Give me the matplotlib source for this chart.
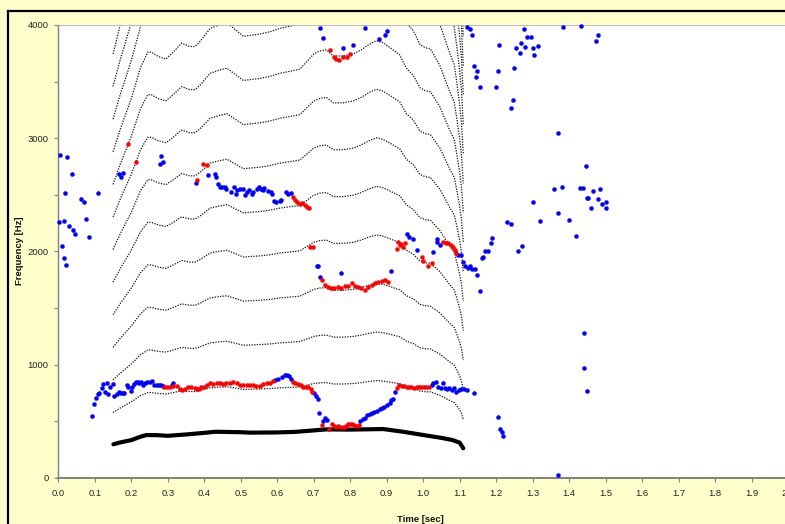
import matplotlib
matplotlib.use("Agg")
import matplotlib.pyplot as plt
from matplotlib.lines import Line2D
import numpy as np

# ---------------- data ----------------
# smoothed pitch contour used for the harmonic (dotted) curves, Hz
HARM_T = [0.150, 0.170, 0.200, 0.225, 0.245, 0.255, 0.275, 0.295, 0.315, 0.338,
          0.360, 0.375, 0.390, 0.416, 0.440, 0.462, 0.485, 0.507, 0.530, 0.553,
          0.580, 0.607, 0.635, 0.662, 0.685, 0.700, 0.717, 0.735, 0.754, 0.780,
          0.808, 0.830, 0.850, 0.872, 0.890, 0.910, 0.936, 0.954, 0.973, 0.991,
          1.005, 1.020, 1.046, 1.060, 1.073, 1.085, 1.092, 1.100, 1.105, 1.110]
HARM_F0 = [288, 308, 335, 362, 376, 376, 372, 370, 376, 384,
           381, 381, 386, 397, 400, 402, 396, 390, 391, 392,
           394, 397, 399, 401, 410, 416, 419, 420, 414, 414,
           416, 420, 425, 429, 427, 422, 415, 402, 395, 383,
           380, 379, 364, 352, 341, 332, 318, 300, 285, 260]
HARMONICS = [2, 3, 4, 5, 6, 7, 8, 9, 10, 11, 12, 13, 14, 15]

# measured F0 (thick black line)
F0_T = [0.151, 0.170, 0.200, 0.225, 0.242, 0.270, 0.300, 0.350, 0.406, 0.430,
        0.500, 0.525, 0.600, 0.650, 0.689, 0.735, 0.800, 0.890, 0.945, 1.018,
        1.050, 1.080, 1.100, 1.110]
F0_HZ = [295, 312, 332, 362, 377, 376, 370, 382, 398, 406,
         402, 398, 400, 405, 415, 427, 425, 430, 406, 368,
         352, 333, 310, 260]

BLUE_T = [0.005, 0.023, 0.038, 0.018, 0.062, 0.108, 0.003, 0.015, 0.030, 0.040,
          0.045, 0.011, 0.016, 0.020, 0.070, 0.075, 0.085,
          0.0915, 0.099, 0.103, 0.110, 0.112, 0.119, 0.122, 0.128, 0.133, 0.137,
          0.143, 0.149, 0.153, 0.160, 0.167, 0.171, 0.176, 0.181, 0.187, 0.192,
          0.198, 0.203, 0.208, 0.213, 0.218, 0.222, 0.228, 0.233, 0.239, 0.244,
          0.251, 0.257, 0.263, 0.270, 0.277, 0.282, 0.288, 0.311, 0.315,
          0.593, 0.603, 0.612, 0.621, 0.628, 0.633, 0.639,
          0.701, 0.706, 0.711, 0.715, 0.726, 0.732, 0.737,
          0.827, 0.834, 0.841, 0.847, 0.853, 0.859, 0.866, 0.873, 0.881, 0.887,
          0.893, 0.901, 0.908, 0.911, 0.916, 0.924,
          1.023, 1.027, 1.035, 1.041, 1.048, 1.055, 1.060, 1.066, 1.072, 1.078,
          1.085, 1.091, 1.097, 1.104, 1.111, 1.120, 1.140,
          1.205, 1.210, 1.215, 1.219,
          0.167, 0.172, 0.178, 0.281, 0.279, 0.288, 0.377,
          0.411, 0.430, 0.433, 0.438, 0.443, 0.450, 0.457, 0.460, 0.472, 0.482,
          0.487, 0.491, 0.498, 0.505, 0.511, 0.518, 0.524, 0.530, 0.534, 0.544,
          0.549, 0.555, 0.560, 0.564, 0.575, 0.582, 0.587, 0.592, 0.598, 0.607,
          0.611, 0.624, 0.630, 0.637,
          0.708, 0.712, 0.717, 0.776, 0.913,
          0.955, 0.962, 0.973, 0.984, 1.027, 1.037, 1.039, 1.046,
          1.096, 1.105, 1.110, 1.115, 1.123, 1.129, 1.135, 1.141, 1.148, 1.155,
          1.160, 1.165, 1.169, 1.178, 1.185, 1.190,
          0.718, 0.726, 0.781, 0.808, 0.840, 0.880, 0.896, 0.900,
          1.119, 1.128, 1.135, 1.139, 1.148, 1.145, 1.155, 1.208, 1.205, 1.199,
          1.248, 1.245, 1.240, 1.255, 1.265, 1.269, 1.276, 1.279, 1.285, 1.295,
          1.300, 1.305, 1.315, 1.369, 1.384, 1.434, 1.475, 1.480,
          1.445, 1.438, 1.465, 1.485, 1.449, 1.452, 1.478, 1.490, 1.500, 1.500,
          1.460, 1.230, 1.240, 1.260, 1.270, 1.300, 1.320, 1.360, 1.380, 1.400,
          1.420, 1.430, 1.370, 1.440, 1.440, 1.450, 1.370]
BLUE_F = [2850, 2831, 2686, 2518, 2465, 2518, 2260, 2265, 2225, 2190,
          2150, 2050, 1940, 1880, 2440, 2290, 2130,
          545, 651, 701, 737, 745, 790, 825, 760, 839, 739,
          804, 828, 722, 737, 754, 745, 751, 745, 819, 804,
          769, 799, 825, 843, 848, 840, 843, 819, 834, 845,
          848, 851, 822, 822, 822, 822, 808, 816, 834,
          863, 875, 887, 907, 907, 898, 869,
          745, 722, 695, 575, 501, 525, 510,
          501, 522, 531, 554, 563, 575, 584, 590, 604, 613,
          628, 643, 657, 686, 692, 754,
          819, 834, 848, 798, 790, 834, 790, 781, 790, 775,
          790, 760, 775, 781, 781, 775, 745,
          534, 427, 407, 368,
          2680, 2654, 2689, 2845, 2771, 2792, 2601,
          2674, 2680, 2654, 2595, 2566, 2572, 2572, 2548, 2527, 2572,
          2507, 2539, 2548, 2554, 2498, 2527, 2539, 2510, 2527, 2554,
          2572, 2554, 2539, 2563, 2531, 2527, 2510, 2445, 2440, 2445,
          2453, 2527, 2510, 2516,
          1870, 1870, 1776, 1806, 1829,
          2153, 2124, 2106, 2012, 1997, 2085, 2106, 2056,
          1968, 1968, 1909, 1870, 1856, 1870, 1841, 1841, 1791, 1650,
          1938, 1947, 2006, 2000, 2077, 2115,
          3970, 3882, 3800, 3820, 3970, 3880, 3910, 3945,
          3985, 3961, 3908, 3637, 3596, 3537, 3449, 3823, 3596, 3449,
          3622, 3337, 3269, 3796, 3755, 3838, 3964, 3802, 3896, 3896,
          3799, 3735, 3817, 3043, 3985, 3991, 3858, 3908,
          2754, 2562, 2533, 2548, 2468, 2474, 2460, 2420, 2440, 2380,
          2380, 2260, 2240, 2000, 2050, 2440, 2270, 2550, 2570, 2280,
          2140, 2560, 25, 1280, 970, 770, 2340]

RED_T = [0.291, 0.298, 0.305, 0.315, 0.326, 0.333, 0.340, 0.347, 0.356, 0.365,
         0.374, 0.380, 0.386, 0.392, 0.399, 0.408, 0.417, 0.425, 0.434, 0.443,
         0.452, 0.461, 0.470, 0.479, 0.489, 0.498, 0.507, 0.516, 0.525, 0.534,
         0.543, 0.553, 0.562, 0.571, 0.580, 0.589,
         0.644, 0.650, 0.657, 0.664, 0.671, 0.679, 0.685, 0.692, 0.695,
         0.722, 0.742, 0.749, 0.755, 0.761, 0.767, 0.774, 0.782, 0.788, 0.793,
         0.799, 0.805, 0.811, 0.818, 0.823,
         0.929, 0.934, 0.941, 0.947, 0.955, 0.962, 0.968, 0.974, 0.982, 0.989,
         0.995, 1.002, 1.009, 1.017,
         0.192, 0.212, 0.381, 0.397, 0.407,
         0.642, 0.649, 0.655, 0.662, 0.668, 0.676, 0.682, 0.688,
         0.691, 0.699,
         0.722, 0.730, 0.739, 0.748, 0.757, 0.767, 0.776, 0.785, 0.794, 0.804,
         0.813, 0.822, 0.831, 0.840, 0.850, 0.859, 0.868, 0.877, 0.886, 0.895,
         0.905,
         0.927, 0.932, 0.936, 0.940, 0.945, 0.951,
         0.996, 1.000, 1.013, 1.025,
         1.055, 1.062, 1.068, 1.075, 1.082, 1.087, 1.091,
         0.745, 0.755, 0.760, 0.770, 0.780, 0.790, 0.800]
RED_F = [798, 798, 805, 808, 810, 781, 775, 787, 798, 798,
         790, 781, 787, 798, 804, 822, 834, 828, 834, 834,
         831, 834, 837, 843, 834, 822, 819, 816, 816, 816,
         813, 813, 825, 834, 840, 857,
         848, 834, 825, 816, 804, 798, 798, 781, 760,
         466, 427, 472, 460, 448, 460, 448, 448, 460, 472,
         475, 472, 463, 454, 469,
         790, 819, 810, 810, 804, 804, 798, 795, 798, 798,
         804, 804, 804, 804,
         2948, 2792, 2630, 2771, 2763,
         2483, 2453, 2440, 2418, 2424, 2410, 2389, 2380,
         2036, 2042,
         1747, 1702, 1688, 1680, 1680, 1688, 1680, 1694, 1691, 1723,
         1694, 1688, 1673, 1661, 1688, 1702, 1717, 1732, 1740, 1746,
         1732,
         2018, 2085, 2056, 2065, 2042, 2077,
         1947, 1915, 1871, 1900,
         2085, 2077, 2071, 2056, 2042, 2012, 1983,
         3776, 3714, 3700, 3690, 3720, 3720, 3740]

X_TICKS = [round(0.1 * i, 1) for i in range(21)]
X_LABELS = ["%.1f" % v for v in X_TICKS]
Y_MAJOR = [0, 1000, 2000, 3000, 4000]
Y_MINOR = [500, 1500, 2500, 3500]

# ---------------- figure ----------------
plt.rcParams['font.family'] = ['Liberation Sans', 'DejaVu Sans']
BG = '#FFFFCC'
fig = plt.figure(figsize=(7.85, 5.24), dpi=100, facecolor=BG)

# outer chart border (top and left visible)
fig.add_artist(Line2D([8 / 785, 8 / 785], [0, 1 - 11 / 524], transform=fig.transFigure,
                      color='black', lw=1.6))
fig.add_artist(Line2D([8 / 785, 1], [1 - 11 / 524, 1 - 11 / 524], transform=fig.transFigure,
                      color='black', lw=1.6))

ax = fig.add_axes([58.3 / 785, 1 - 477.7 / 524, (788 - 58.3) / 785, (477.7 - 25) / 524])
ax.set_facecolor('white')
ax.set_xlim(0, 2.0)
ax.set_ylim(0, 4000)

ht = np.array(HARM_T)
hf = np.array(HARM_F0)
for k in HARMONICS:
    ax.plot(ht, k * hf, color='#111111', lw=0.9, ls=(0, (1, 1.1)), zorder=2)

ax.plot(F0_T, F0_HZ, color='black', lw=3.0, solid_capstyle='round', zorder=3)

ax.plot(BLUE_T, BLUE_F, ls='none', marker='o', ms=2.9, mfc='#0000FF', mec='#0000FF',
        mew=0.3, zorder=4, clip_on=False)
ax.plot(RED_T, RED_F, ls='none', marker='o', ms=2.9, mfc='#FF0000', mec='#FF0000',
        mew=0.3, zorder=5, clip_on=False)

ax.set_xticks(X_TICKS)
ax.set_xticklabels(X_LABELS)
ax.set_yticks(Y_MAJOR)
ax.set_yticklabels([str(v) for v in Y_MAJOR])
ax.set_yticks(Y_MINOR, minor=True)
ax.tick_params(axis='both', which='both', direction='out', colors='#808080',
               labelcolor='#222222', labelsize=6.8, length=3, width=0.8)
ax.tick_params(axis='x', pad=5)
ax.tick_params(axis='y', pad=4)

ax.spines['right'].set_visible(False)
ax.spines['top'].set_color('#b0b0b0')
ax.spines['top'].set_linewidth(0.6)
ax.spines['left'].set_color('#808080')
ax.spines['left'].set_linewidth(1.0)
ax.spines['bottom'].set_color('#808080')
ax.spines['bottom'].set_linewidth(1.4)

fig.text(420 / 785, 1 - 519 / 524, 'Time [sec]', ha='center', va='center',
         fontsize=6.8, fontweight='bold', color='#111111')
fig.text(20 / 785, 1 - 251 / 524, 'Frequency [Hz]', ha='center', va='center',
         rotation=90, fontsize=6.8, fontweight='bold', color='#111111')

fig.savefig('out.png', dpi=100, facecolor=BG)
